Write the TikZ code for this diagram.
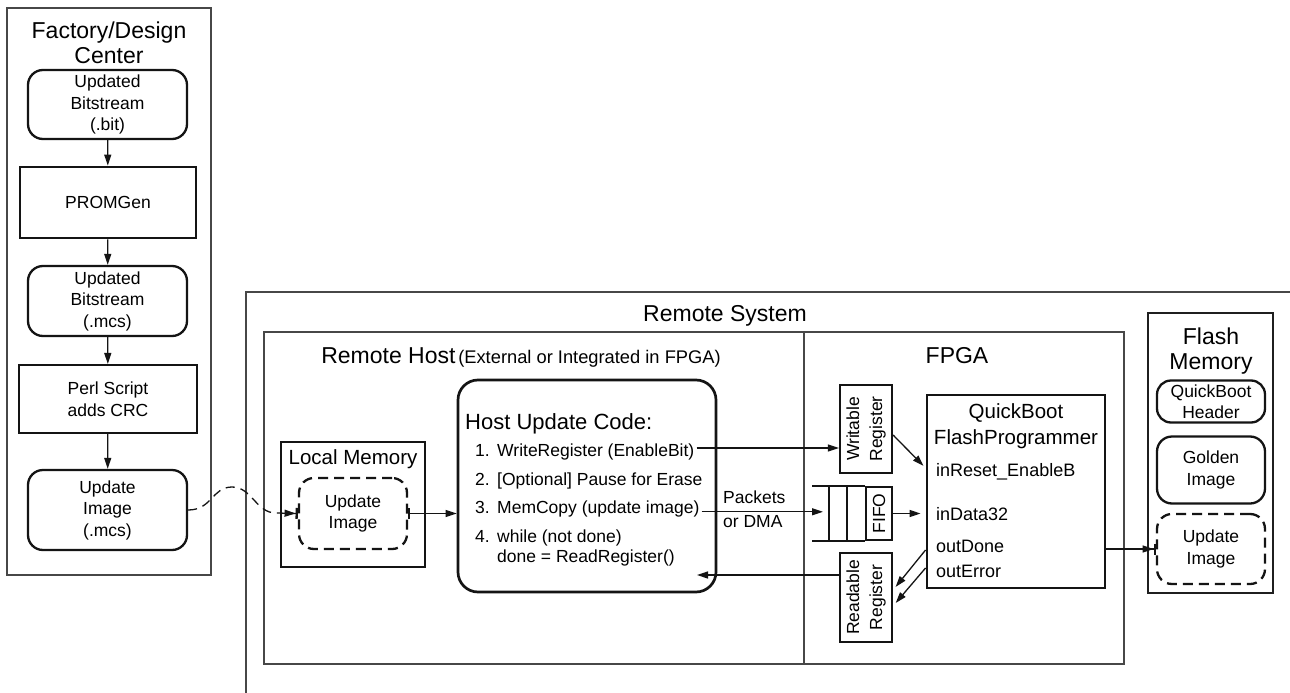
\documentclass[tikz,border=0pt]{standalone}
\usepackage{fontspec}
\usepackage{graphicx}
\setmainfont{Liberation Sans}
\usetikzlibrary{arrows.meta,calc}

\newcommand\fsz[2]{\fontsize{#1}{#2}\selectfont}

\begin{document}
\begin{tikzpicture}[x=1pt,y=-1pt,
  every node/.style={text=black},
  frame/.style={draw=black!72, line width=1.2pt, inner sep=0pt},
  rbox/.style={draw=black!92, line width=2.3pt, rounded corners=15pt, align=center,
               font=\fsz{17.5}{21.5}, inner sep=0pt},
  sbox/.style={draw=black!92, line width=2.2pt, align=center, font=\fsz{17.5}{22.5}, inner sep=0pt},
  tbox/.style={sbox, line width=2.9pt},
  dbox/.style={rbox, dash pattern=on 10pt off 6pt},
  title/.style={font=\fsz{23}{25}, inner sep=0pt, align=center},
  lbl/.style={font=\fsz{17.5}{21}, inner sep=0pt},
  port/.style={font=\fsz{18}{21}, inner sep=0pt, anchor=base west},
  arr/.style={line width=1.3pt, draw=black!92, -{Triangle[length=11pt,width=7pt]}},
  arrbar/.style={line width=1.3pt, draw=black!92,
                 -{Triangle[length=11pt,width=7pt]Bar[width=11pt,line width=2.3pt]}},
  bararr/.style={line width=1.3pt, draw=black!92,
                 {Bar[width=11pt,line width=2.3pt]}-{Triangle[length=11pt,width=7pt]}},
]
\useasboundingbox (0,0) rectangle (1290,693);
\fill[white] (0,0) rectangle (1290,693);

% ---------------- Factory / design centre flow ----------------
\node[frame, minimum width=204pt, minimum height=567pt] (fac) at (109,291.5) {};
\node[title, anchor=north] (factitle) at (109,21.5) {Factory/Design\\Center};

\node[rbox, minimum width=159pt, minimum height=69pt] (bit) at (107.5,104.5) {Updated\\Bitstream\\(.bit)};
\node[tbox, minimum width=176pt, minimum height=71pt] (promgen) at (108,202.5) {PROMGen};
\node[rbox, minimum width=159pt, minimum height=70pt] (mcs) at (107.5,301) {Updated\\Bitstream\\(.mcs)};
\node[sbox, minimum width=178pt, minimum height=68pt] (perl) at (108,399) {Perl Script\\adds CRC};
\node[rbox, minimum width=159pt, minimum height=80pt] (img) at (107.5,510) {Update\\Image\\(.mcs)};

\draw[arr] (bit) -- (promgen);
\draw[arr] (promgen) -- (mcs);
\draw[arr] (mcs) -- (perl);
\draw[arr] (perl) -- (img);

% ---------------- Remote system frames ----------------
\begin{scope}
  \clip (0,0) rectangle (1290,693);
  \node[frame, minimum width=1060pt, minimum height=420pt] (rsys) at (776,502) {};
\end{scope}
\node[title, anchor=base] (rsystitle) at (725,321) {Remote System};

\node[frame, minimum width=540pt, minimum height=332pt] (rhost) at (534,498) {};
\node[frame, minimum width=320pt, minimum height=332pt] (fpga) at (964,498) {};
\node[inner sep=0pt, anchor=base] (rhosttitle) at (521,363)
  {{\fsz{23}{25}Remote Host} {\fsz{18.3}{22}(External or Integrated in FPGA)}};
\node[title, anchor=base] (fpgatitle) at (957,363) {FPGA};

% ---------------- Remote host ----------------
\node[tbox, minimum width=144pt, minimum height=125pt] (lmem) at (353,504.5) {};
\node[inner sep=0pt, anchor=base, font=\fsz{20.5}{24}] (lmemtitle) at (353,464.4) {Local Memory};
\node[dbox, minimum width=108pt, minimum height=71pt] (lui) at (353,513.5) {Update\\Image};

\node[draw=black!92, line width=2.7pt, rounded corners=20pt, minimum width=258pt,
      minimum height=212pt, inner sep=0pt] (host) at (587,486) {};
\node[inner sep=0pt, anchor=base west, font=\fsz{22}{25}] (h0) at (465,429) {Host Update Code:};
\node[lbl, anchor=base west] (h1) at (475,456) {\makebox[22pt][l]{1.}WriteRegister (EnableBit)};
\node[lbl, anchor=base west] (h2) at (475,485) {\makebox[22pt][l]{2.}[Optional] Pause for Erase};
\node[lbl, anchor=base west] (h3) at (475,513.8) {\makebox[22pt][l]{3.}MemCopy (update image)};
\node[lbl, anchor=base west] (h4) at (475,542) {\makebox[22pt][l]{4.}while (not done)};
\node[lbl, anchor=base west] (h5) at (497,562) {done = ReadRegister()};

% dashed hand-over of the image file to the remote host
\coordinate (pk) at (232,487);
\coordinate (pe) at (276,513);
\draw[arrbar, dash pattern=on 9pt off 6pt] (img.east) .. controls (212,510) and (212,487) .. (pk)
  .. controls (252,487) and (256,513) .. (pe) -- (lui.west);
\draw[bararr] (lui.east) -- (lui.east -| host.west);

% ---------------- FPGA ----------------
\node[sbox, minimum width=52pt, minimum height=88pt, font=\fsz{17.5}{23}] (wreg) at (866,429)
  {\rotatebox{90}{\begin{tabular}{@{}c@{}}Writable\\Register\end{tabular}}};
\node[sbox, minimum width=52pt, minimum height=89pt, font=\fsz{17.5}{23}] (rreg) at (866,597.5)
  {\rotatebox{90}{\begin{tabular}{@{}c@{}}Readable\\Register\end{tabular}}};
\node[sbox, minimum width=26pt, minimum height=53pt, font=\fsz{17.5}{21}] (fifo) at (879,513.5)
  {\rotatebox{90}{FIFO}};
\draw[line width=2.2pt, draw=black!92] (fifo.north west) -- ++(-53,0)
  (fifo.south west) -- ++(-53,0)
  ($(fifo.north west)+(-18,0)$) -- ($(fifo.south west)+(-18,0)$)
  ($(fifo.north west)+(-36,0)$) -- ($(fifo.south west)+(-36,0)$);

\node[tbox, minimum width=178pt, minimum height=193pt] (qb) at (1016,491.5) {};
\node[inner sep=0pt, anchor=north, align=center, font=\fsz{20.5}{26}] (qbtitle) at (1016,403)
  {QuickBoot\\FlashProgrammer};
\node[port] (pin1) at (936,476.5) {inReset\_EnableB};
\node[port] (pin2) at (936,520.5) {inData32};
\node[port] (pout1) at (936,552.5) {outDone};
\node[port] (pout2) at (936,577.5) {outError};

% host <-> FPGA traffic
\coordinate (w1) at ([xshift=2pt,yshift=8pt]h1.base east);
\draw[arr] (w1) -- (w1 -| wreg.west);
\coordinate (w3) at ([xshift=2pt,yshift=2pt]h3.base east);
\coordinate (fifoin) at (823,511.7);
\draw[arr] (w3) -- (w3 -| fifoin);
\node[lbl, anchor=north west, align=left, font=\fsz{17.5}{24}] (pkt) at (723,490.5) {Packets\\or DMA};
\coordinate (hret) at (697,575);
\draw[arr] (rreg.west |- hret) -- (hret);

\draw[arr, shorten >=3pt] ([yshift=-6pt]wreg.east) -- ([yshift=23.5pt]qb.west);
\draw[arr, shorten >=5pt] (fifo.east) -- (fifo.east -| qb.west);
\draw[arr, shorten >=4pt] ([yshift=-58.5pt]qb.west) -- ([yshift=7.5pt]rreg.east);
\draw[arr, shorten >=4pt] ([yshift=-76.5pt]qb.west) -- ([yshift=-8.5pt]rreg.east);

% ---------------- Flash memory ----------------
\node[frame, draw=black!88, line width=1.6pt, minimum width=125pt, minimum height=280pt] (flash) at (1210.5,453) {};
\node[title, anchor=north] (flashtitle) at (1211,327.5) {Flash\\Memory};
\node[rbox, minimum width=108pt, minimum height=42pt, rounded corners=14pt, font=\fsz{17.5}{21}] (hdr) at (1211,401.5) {QuickBoot\\Header};
\node[rbox, minimum width=108pt, minimum height=67pt] (gold) at (1211,470) {Golden\\Image};
\node[dbox, minimum width=108pt, minimum height=70pt] (flu) at (1211,549) {Update\\Image};

\draw[arrbar] (flu.west -| qb.east) -- (flu.west);
\end{tikzpicture}
\end{document}
